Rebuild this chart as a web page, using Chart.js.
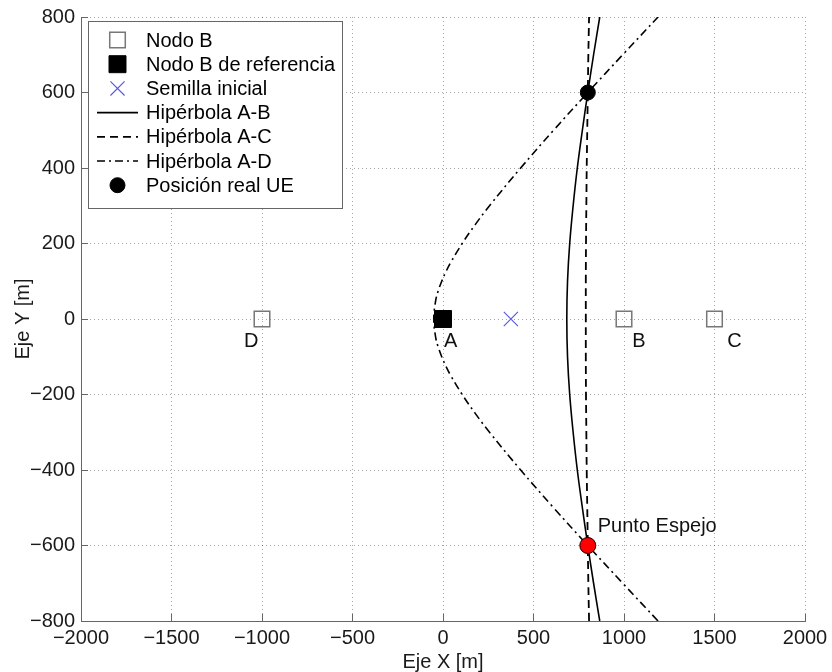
<!DOCTYPE html>
<html>
<head>
<meta charset="utf-8">
<title>Hipérbolas A-B, A-C, A-D</title>
<script src="https://cdn.jsdelivr.net/npm/chart.js@4.4.1/dist/chart.umd.min.js"></script>
<style>
  html, body { margin: 0; padding: 0; background: #fff; }
  #wrap { width: 832px; height: 672px; position: relative; }
</style>
</head>
<body>
<div id="wrap"><canvas id="hiperbolasChart"></canvas></div>
<script>
// --- Datos ---
const nodoBX = [-1000, 1000, 1500];
const nodoBY = [0, 0, 0];
const refX = [0];
const refY = [0];
const semillaX = [375];
const semillaY = [0];
const ueX = [800];
const ueY = [600];
const espejoX = [800];
const espejoY = [-600];

// Hipérbola A-B y A-C (misma rejilla en Y)
const abY = [-800, -700, -600, -500, -400, -300, -200, -100, 0, 100, 200, 300, 400, 500, 600, 700, 800];
const abX = [866, 832, 800, 770, 742, 719, 700, 688, 684, 688, 700, 719, 742, 770, 800, 832, 866];
const acY = [-800, -700, -600, -500, -400, -300, -200, -100, 0, 100, 200, 300, 400, 500, 600, 700, 800];
const acX = [807, 803, 800, 797, 794, 792, 790, 789, 789, 789, 790, 792, 794, 797, 800, 803, 807];
// Hipérbola A-D (más puntos cerca del vértice)
const adY = [-800, -700, -600, -500, -400, -300, -250, -200, -150, -125, -100, -75, -50, 0, 50, 75, 100, 125, 150, 200, 250, 300, 400, 500, 600, 700, 800];
const adX = [1188, 993, 800, 611, 429, 257, 178, 106, 43, 16, -7, -26, -40, -51, -40, -26, -7, 16, 43, 106, 178, 257, 429, 611, 800, 993, 1188];

// Etiquetas de texto en coordenadas de datos
const etiquetaTexto = ["D", "A", "B", "C", "Punto Espejo"];
const etiquetaX = [-1100, 5, 1045, 1570, 855];
const etiquetaY = [-60, -60, -60, -60, -550];

// Ticks
const ticksX = [-2000, -1500, -1000, -500, 0, 500, 1000, 1500, 2000];
const ticksY = [-800, -600, -400, -200, 0, 200, 400, 600, 800];

const toXY = (xs, ys) => xs.map((x, i) => ({ x: x, y: ys[i] }));
const menos = (v) => String(v).replace("-", "\u2212");

const FUENTE = "'Liberation Sans', Arial, Helvetica, sans-serif";
Chart.defaults.font.family = FUENTE;
Chart.defaults.color = "#1a1a1a";

// Sin relleno extra por las etiquetas de los extremos: el área queda fija
const sinPadding = (scale) => {
    scale.paddingLeft = 0;
    scale.paddingRight = 0;
    scale.paddingTop = 0;
    scale.paddingBottom = 0;
};

// Leyenda estilo MATLAB (caja blanca dentro del área del gráfico)
const leyendaPlugin = {
    id: "leyendaMatlab",
    afterDatasetsDraw(chart) {
        const { ctx, chartArea } = chart;
        const items = chart.data.datasets.filter((d) => d.enLeyenda);
        const x0 = Math.round(chartArea.left + 7);
        const y0 = Math.round(chartArea.top + 4);
        const rowH = 24.2;
        ctx.save();
        ctx.font = "20px " + FUENTE;
        let maxW = 0;
        items.forEach((d) => { maxW = Math.max(maxW, ctx.measureText(d.label).width); });
        const w = Math.round(58 + maxW + 7);
        const h = Math.round(19 + rowH * (items.length - 1) + 23);
        ctx.fillStyle = "#fff";
        ctx.fillRect(x0, y0, w, h);
        ctx.strokeStyle = "#666";
        ctx.lineWidth = 1;
        ctx.strokeRect(x0 + 0.5, y0 + 0.5, w, h);

        items.forEach((d, i) => {
            const cy = y0 + 19 + i * rowH;
            const cx = x0 + 29.5;
            ctx.save();
            if (d.showLine) {
                ctx.strokeStyle = d.borderColor;
                ctx.lineWidth = d.borderWidth;
                ctx.setLineDash(d.borderDash || []);
                ctx.beginPath();
                ctx.moveTo(cx - 20.5, cy);
                ctx.lineTo(cx + 20.5, cy);
                ctx.stroke();
            } else {
                ctx.fillStyle = d.backgroundColor;
                ctx.strokeStyle = d.borderColor;
                ctx.lineWidth = d.borderWidth;
                Chart.helpers.drawPoint(ctx, {
                    pointStyle: d.pointStyle,
                    radius: d.pointRadius,
                    rotation: 0,
                    borderWidth: d.borderWidth,
                }, cx, cy);
            }
            ctx.restore();
            ctx.fillStyle = "#000";
            ctx.textAlign = "left";
            ctx.textBaseline = "middle";
            ctx.fillText(d.label, x0 + 58, cy + 1);
        });
        ctx.restore();
    },
};

// Textos junto a los nodos y al punto espejo
const etiquetasPlugin = {
    id: "etiquetasNodos",
    afterDatasetsDraw(chart) {
        const { ctx, scales } = chart;
        ctx.save();
        ctx.font = "20px " + FUENTE;
        ctx.fillStyle = "#111";
        ctx.textAlign = "left";
        ctx.textBaseline = "middle";
        etiquetaTexto.forEach((t, i) => {
            ctx.fillText(t, scales.x.getPixelForValue(etiquetaX[i]), scales.y.getPixelForValue(etiquetaY[i]));
        });
        ctx.restore();
    },
};

const ctx = document.getElementById("hiperbolasChart");

new Chart(ctx, {
    type: "scatter",
    data: {
        datasets: [
            {
                label: "Nodo B",
                enLeyenda: true,
                data: toXY(nodoBX, nodoBY),
                pointStyle: "rect",
                pointRadius: 11,
                backgroundColor: "rgba(0,0,0,0)",
                borderColor: "#777",
                borderWidth: 1.5,
                order: 3,
            },
            {
                label: "Nodo B de referencia",
                enLeyenda: true,
                data: toXY(refX, refY),
                pointStyle: "rect",
                pointRadius: 12,
                backgroundColor: "#000",
                borderColor: "#000",
                borderWidth: 1,
                order: 3,
            },
            {
                label: "Semilla inicial",
                enLeyenda: true,
                data: toXY(semillaX, semillaY),
                pointStyle: "crossRot",
                pointRadius: 10,
                backgroundColor: "#5a5ae0",
                borderColor: "#5a5ae0",
                borderWidth: 1.2,
                order: 3,
            },
            {
                label: "Hipérbola A-B",
                enLeyenda: true,
                data: toXY(abX, abY),
                showLine: true,
                tension: 0.4,
                pointRadius: 0,
                borderColor: "#000",
                borderWidth: 1.6,
                borderDash: [],
                order: 2,
            },
            {
                label: "Hipérbola A-C",
                enLeyenda: true,
                data: toXY(acX, acY),
                showLine: true,
                tension: 0.4,
                pointRadius: 0,
                borderColor: "#000",
                borderWidth: 1.8,
                borderDash: [8, 5],
                order: 2,
            },
            {
                label: "Hipérbola A-D",
                enLeyenda: true,
                data: toXY(adX, adY),
                showLine: true,
                tension: 0.4,
                pointRadius: 0,
                borderColor: "#000",
                borderWidth: 1.6,
                borderDash: [8, 4, 2, 4],
                order: 2,
            },
            {
                label: "Posición real UE",
                enLeyenda: true,
                data: toXY(ueX, ueY),
                pointStyle: "circle",
                pointRadius: 7.5,
                backgroundColor: "#000",
                borderColor: "#000",
                borderWidth: 1,
                order: 1,
            },
            {
                label: "Punto Espejo",
                enLeyenda: false,
                data: toXY(espejoX, espejoY),
                pointStyle: "circle",
                pointRadius: 8,
                backgroundColor: "#ff0000",
                borderColor: "#000",
                borderWidth: 1,
                order: 0,
            },
        ],
    },
    options: {
        responsive: true,
        maintainAspectRatio: false,
        animation: false,
        events: [],
        layout: { padding: { left: 0, right: 27, top: 17, bottom: 0 } },
        plugins: {
            legend: { display: false },
            tooltip: { enabled: false },
        },
        scales: {
            x: {
                type: "linear",
                min: ticksX[0],
                max: ticksX[ticksX.length - 1],
                afterBuildTicks: (scale) => { scale.ticks = ticksX.map((v) => ({ value: v })); },
                afterFit: (scale) => { scale.height = 51; sinPadding(scale); },
                ticks: {
                    callback: menos,
                    font: { size: 20 },
                    color: "#1a1a1a",
                    padding: 12,
                    maxRotation: 0,
                },
                grid: {
                    color: "rgba(0,0,0,0.35)",
                    lineWidth: 1,
                    tickLength: -7,
                    tickColor: "#666",
                    tickWidth: 1,
                },
                border: { color: "#666", width: 1, dash: [1, 3] },
                title: {
                    display: true,
                    text: "Eje X [m]",
                    font: { size: 20, lineHeight: 1 },
                    color: "#1a1a1a",
                    padding: { top: 0, bottom: 0 },
                },
            },
            y: {
                type: "linear",
                min: ticksY[0],
                max: ticksY[ticksY.length - 1],
                afterBuildTicks: (scale) => { scale.ticks = ticksY.map((v) => ({ value: v })); },
                afterFit: (scale) => { scale.width = 81; sinPadding(scale); },
                ticks: {
                    callback: menos,
                    font: { size: 20 },
                    color: "#1a1a1a",
                    padding: 13,
                },
                grid: {
                    color: "rgba(0,0,0,0.35)",
                    lineWidth: 1,
                    tickLength: -7,
                    tickColor: "#666",
                    tickWidth: 1,
                },
                border: { color: "#666", width: 1, dash: [1, 3] },
                title: {
                    display: true,
                    text: "Eje Y [m]",
                    font: { size: 20, lineHeight: 1 },
                    color: "#1a1a1a",
                    padding: { top: 13, bottom: 0 },
                },
            },
        },
    },
    plugins: [etiquetasPlugin, leyendaPlugin],
});
</script>
</body>
</html>
